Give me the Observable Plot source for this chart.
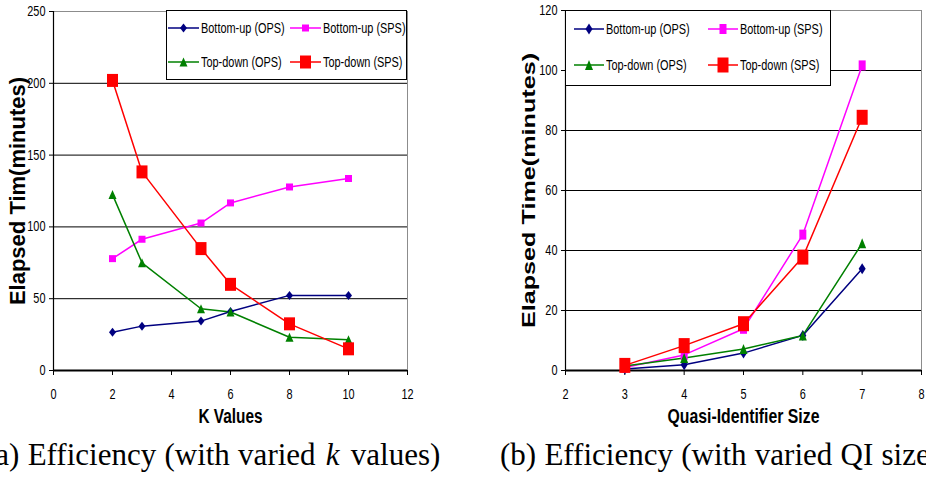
<!DOCTYPE html>
<html>
<head>
<meta charset="utf-8">
<script src="https://cdn.jsdelivr.net/npm/d3@7"></script>
<script src="https://cdn.jsdelivr.net/npm/@observablehq/plot@0.6"></script>
<style>
  body { margin: 0; background: #fff; }
  #wrap { position: relative; width: 926px; height: 477px; overflow: hidden; background: #fff; }
  .chart { position: absolute; top: 0; }
  .legend { position: absolute; box-sizing: border-box; border: 1px solid #000; background: #fff;
            display: grid; font-family: "Liberation Sans", Arial, sans-serif;
            font-size: 14px; color: #000; }
  .legend .item { display: flex; align-items: center; white-space: nowrap; }
  .legend svg { flex: none; margin-right: 2px; }
  .legend span { display: inline-block; transform: scaleX(0.78); transform-origin: 0 50%; }
  .cap { position: absolute; top: 439px; font-family: "Liberation Serif", "Times New Roman", serif;
         font-size: 31px; line-height: 31px; white-space: nowrap; color: #000; word-spacing: 0.5px; }
  .cap i { padding: 0 3px 0 2px; }
</style>
</head>
<body>
<div id="wrap"></div>
<script>
// ---------- data ----------
const seriesNames = ["Bottom-up (OPS)", "Bottom-up (SPS)", "Top-down (OPS)", "Top-down (SPS)"];

const kValues = [2, 3, 5, 6, 8, 10];
const kBottomUpOPS = [26.7, 30.9, 34.4, 41.1, 52.3, 52.3];
const kBottomUpSPS = [77.9, 91.4, 102.7, 116.7, 127.8, 133.7];
const kTopDownOPS  = [122.5, 75.0, 43.0, 40.7, 23.2, 21.4];
const kTopDownSPS  = [202.0, 138.3, 84.9, 60.0, 32.5, 15.1];
const kXTicks = [0, 2, 4, 6, 8, 10, 12];
const kYTicks = [0, 50, 100, 150, 200, 250];

const qiSizes = [3, 4, 5, 6, 7];
const qiBottomUpOPS = [0.5, 1.9, 5.8, 11.7, 33.9];
const qiBottomUpSPS = [1.0, 5.2, 13.9, 45.3, 101.7];
const qiTopDownOPS  = [1.5, 4.2, 7.2, 11.7, 42.4];
const qiTopDownSPS  = [1.7, 8.3, 15.6, 37.8, 84.4];
const qiXTicks = [2, 3, 4, 5, 6, 7, 8];
const qiYTicks = [0, 20, 40, 60, 80, 100, 120];

// ---------- styles ----------
const colors = ["#000080", "#FF00FF", "#008000", "#FF0000"];
const rectSym = (w, h) => ({draw(c) { c.moveTo(-w/2, -h/2); c.lineTo(w/2, -h/2); c.lineTo(w/2, h/2); c.lineTo(-w/2, h/2); c.closePath(); }});
const diamondSym = (w, h) => ({draw(c) { c.moveTo(0, -h/2); c.lineTo(w/2, 0); c.lineTo(0, h/2); c.lineTo(-w/2, 0); c.closePath(); }});
const triSym = (w, h) => ({draw(c) { c.moveTo(0, -h/2); c.lineTo(w/2, h/2); c.lineTo(-w/2, h/2); c.closePath(); }});

const leftSyms  = [diamondSym(7, 9), rectSym(7, 7), triSym(8, 9), rectSym(11, 13)];
const rightSyms = [diamondSym(7, 11), rectSym(7, 10), triSym(8, 10), rectSym(11, 15)];

const sansFont = "'Liberation Sans', Arial, sans-serif";

function rows(xs, ys) { return xs.map((x, i) => ({x, y: ys[i]})); }

function scaleTexts(svg, selector, sx) {
  d3.select(svg).selectAll(selector).each(function() {
    const els = this.tagName.toLowerCase() === "text" ? [this] : Array.from(this.querySelectorAll("text"));
    els.forEach(el => el.setAttribute("transform", (el.getAttribute("transform") || "") + ` scale(${sx},1)`));
  });
}

function makeChart({xs, series, xDomain, yDomain, xTicks, yTicks, syms, width, margins, yTitle, xTitle}) {
  const marks = [
    Plot.frame({stroke: "#8c8c8c", strokeWidth: 1}),
    Plot.gridY(yTicks.slice(1, -1), {stroke: "#000", strokeOpacity: 1, strokeWidth: 1}),
    Plot.ruleX([xDomain[0]], {stroke: "#000", strokeWidth: 1.2}),
    Plot.ruleY([yDomain[0]], {stroke: "#000", strokeWidth: 2}),
    Plot.axisX({ticks: xTicks, tickSize: 5, tickPadding: 14, fontSize: 14, tickFormat: d => String(d), label: null}),
    Plot.axisY({ticks: yTicks, tickSize: 4, tickPadding: 4, fontSize: 14, tickFormat: d => String(d), label: null}),
    Plot.text([yTitle], {frameAnchor: "left", dx: -36, rotate: -90, textAnchor: "middle", fontWeight: "bold",
      fontSize: yTitle.size, fontFamily: sansFont, text: d => d.text, ariaLabel: () => "ytitle"}),
    Plot.text([xTitle], {frameAnchor: "bottom", dy: 38, lineAnchor: "top", textAnchor: "middle", fontWeight: "bold",
      fontSize: 20, fontFamily: sansFont, text: d => d.text, ariaLabel: () => "xtitle"})
  ];
  series.forEach((ys, i) => {
    marks.push(Plot.line(rows(xs, ys), {x: "x", y: "y", stroke: colors[i], strokeWidth: 1.5}));
  });
  series.forEach((ys, i) => {
    marks.push(Plot.dot(rows(xs, ys), {x: "x", y: "y", symbol: syms[i], fill: colors[i], stroke: "none", r: 4}));
  });
  const svg = Plot.plot({
    width, height: 430,
    marginLeft: margins[0], marginRight: margins[1], marginTop: margins[2], marginBottom: margins[3],
    x: {domain: xDomain, axis: null},
    y: {domain: yDomain, axis: null},
    style: {fontFamily: sansFont, fontSize: "14px", color: "#000", background: "transparent", overflow: "visible"},
    marks
  });
  // the source figure is squeezed horizontally: condense horizontal texts, stretch rotated ones
  scaleTexts(svg, "g[aria-label$='tick label']", 0.78);
  scaleTexts(svg, "[aria-label='xtitle']", xTitle.sx);
  scaleTexts(svg, "[aria-label='ytitle']", yTitle.sx);
  return svg;
}

const wrap = document.getElementById("wrap");

const left = makeChart({
  xs: kValues, series: [kBottomUpOPS, kBottomUpSPS, kTopDownOPS, kTopDownSPS],
  xDomain: [0, 12], yDomain: [0, 250], xTicks: kXTicks, yTicks: kYTicks, syms: leftSyms,
  width: 420, margins: [53, 13, 11, 60],
  yTitle: {text: "Elapsed Tim(minutes)", size: 22, sx: 1}, xTitle: {text: "K Values", sx: 0.77}
});
left.classList.add("chart"); left.style.left = "0px";
wrap.appendChild(left);

const right = makeChart({
  xs: qiSizes, series: [qiBottomUpOPS, qiBottomUpSPS, qiTopDownOPS, qiTopDownSPS],
  xDomain: [2, 8], yDomain: [0, 120], xTicks: qiXTicks, yTicks: qiYTicks, syms: rightSyms,
  width: 426, margins: [65, 5, 10, 60],
  yTitle: {text: "Elapsed Time(minutes)", size: 18, sx: 1.4}, xTitle: {text: "Quasi-Identifier Size", sx: 0.79}
});
right.classList.add("chart"); right.style.left = "500px";
wrap.appendChild(right);

// ---------- legends ----------
function legend({left, top, width, height, padLeft, colW, rowH, syms, swW}) {
  const div = document.createElement("div");
  div.className = "legend";
  Object.assign(div.style, {left: left + "px", top: top + "px", width: width + "px", height: height + "px",
    paddingLeft: padLeft + "px", gridTemplateColumns: `${colW}px auto`, gridAutoRows: rowH + "px"});
  seriesNames.forEach((name, i) => {
    const item = document.createElement("div");
    item.className = "item";
    const p = d3.path(); syms[i].draw(p, 0);
    item.innerHTML = `<svg width="${swW}" height="18" viewBox="0 0 ${swW} 18">
      <line x1="0" x2="${swW}" y1="9" y2="9" stroke="${colors[i]}" stroke-width="1.5"/>
      <path transform="translate(${swW/2},9)" d="${p.toString()}" fill="${colors[i]}"/></svg><span>${name}</span>`;
    div.appendChild(item);
  });
  wrap.appendChild(div);
}
legend({left: 166, top: 10, width: 241, height: 70, padLeft: 1, colW: 122, rowH: 34, syms: leftSyms, swW: 31});
legend({left: 565, top: 10, width: 266, height: 76, padLeft: 8, colW: 134, rowH: 36, syms: rightSyms, swW: 30});

// ---------- captions ----------
const capA = document.createElement("div");
capA.className = "cap"; capA.style.left = "-15px";
capA.innerHTML = "(a) Efficiency (with varied <i>k</i> values)";
wrap.appendChild(capA);
const capB = document.createElement("div");
capB.className = "cap"; capB.style.left = "500px";
capB.innerHTML = "(b) Efficiency (with varied QI size)";
wrap.appendChild(capB);
</script>
</body>
</html>
